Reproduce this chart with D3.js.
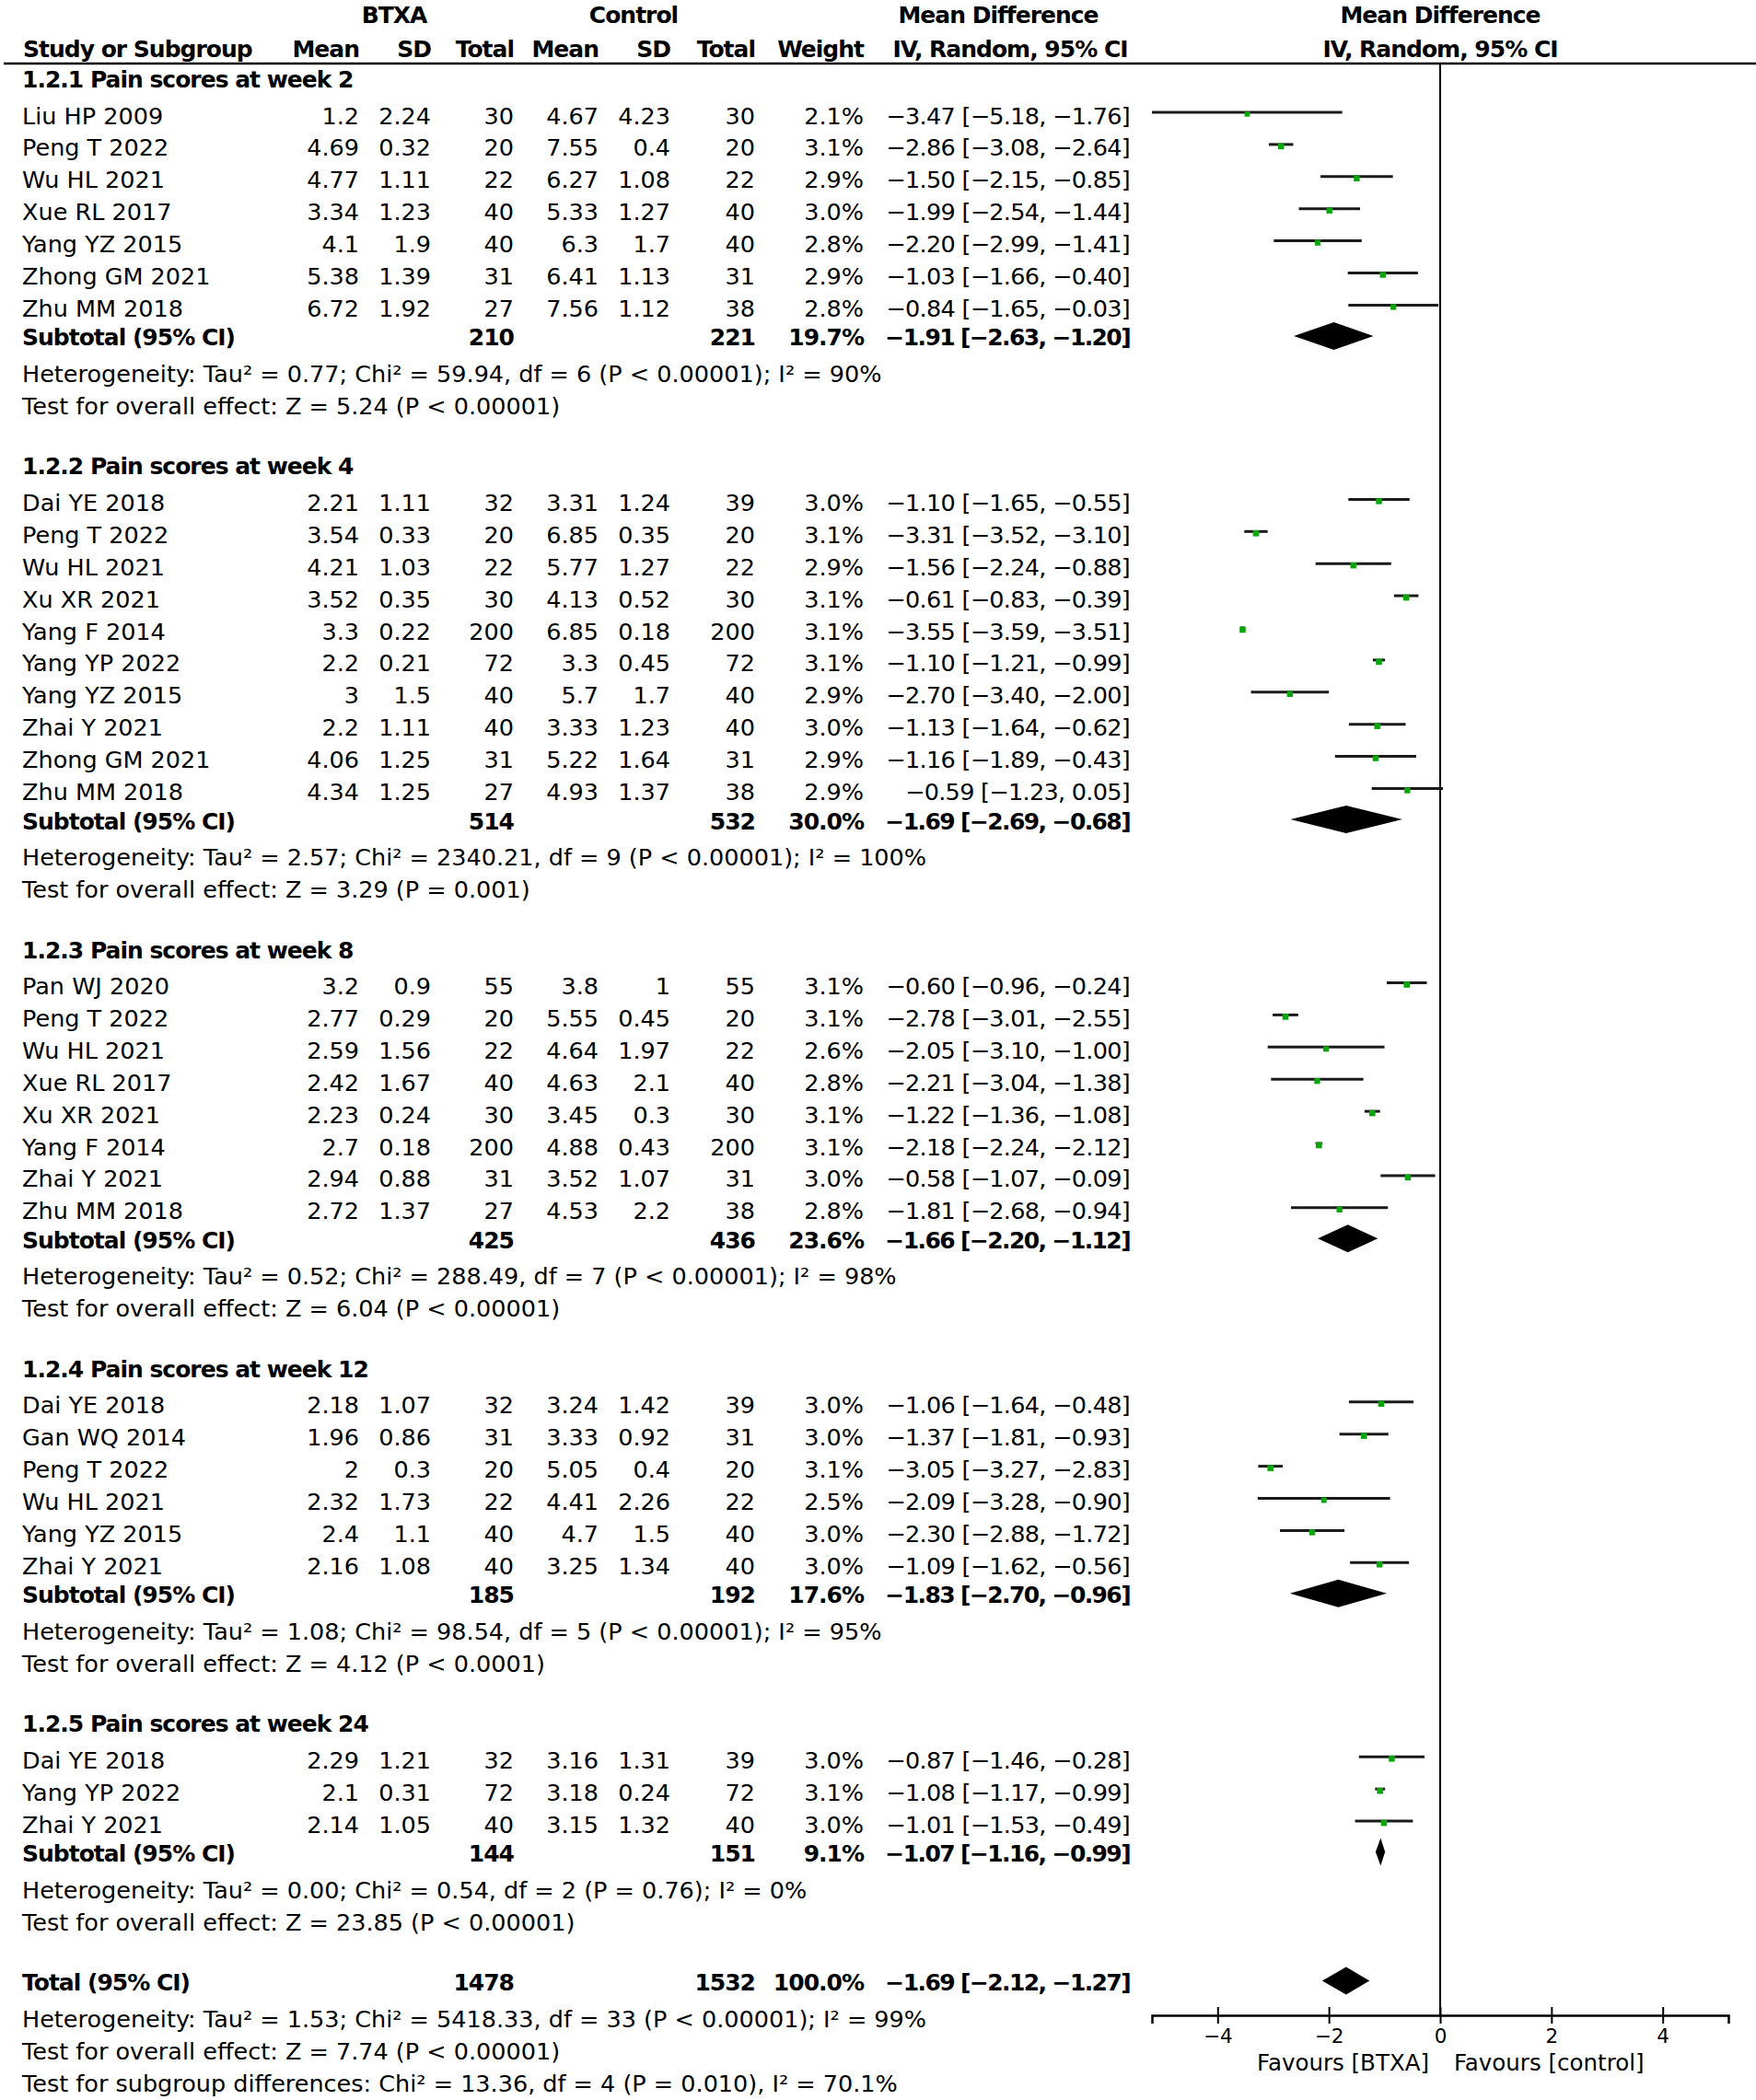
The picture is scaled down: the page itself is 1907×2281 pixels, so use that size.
<!DOCTYPE html>
<html><head><meta charset="utf-8">
<script src="https://cdn.jsdelivr.net/npm/d3@7"></script>
<style>
body{margin:0;background:#fff}
svg{display:block}
text{font-family:"DejaVu Sans",sans-serif;font-size:25.5px;fill:#000}
.b{font-weight:bold;letter-spacing:-1px;font-size:25px}
.md{letter-spacing:-0.7px}
.b.md{letter-spacing:-1.6px}
</style>
</head><body>
<svg id="chart" width="1907" height="2281"></svg>
<script>
// ---------------- DATA ----------------
const subgroupLabels = ["1.2.1 Pain scores at week 2","1.2.2 Pain scores at week 4","1.2.3 Pain scores at week 8","1.2.4 Pain scores at week 12","1.2.5 Pain scores at week 24"];
const studyGroup = [0,0,0,0,0,0,0, 1,1,1,1,1,1,1,1,1,1, 2,2,2,2,2,2,2,2, 3,3,3,3,3,3, 4,4,4];
const studyNames = ["Liu HP 2009","Peng T 2022","Wu HL 2021","Xue RL 2017","Yang YZ 2015","Zhong GM 2021","Zhu MM 2018",
  "Dai YE 2018","Peng T 2022","Wu HL 2021","Xu XR 2021","Yang F 2014","Yang YP 2022","Yang YZ 2015","Zhai Y 2021","Zhong GM 2021","Zhu MM 2018",
  "Pan WJ 2020","Peng T 2022","Wu HL 2021","Xue RL 2017","Xu XR 2021","Yang F 2014","Zhai Y 2021","Zhu MM 2018",
  "Dai YE 2018","Gan WQ 2014","Peng T 2022","Wu HL 2021","Yang YZ 2015","Zhai Y 2021",
  "Dai YE 2018","Yang YP 2022","Zhai Y 2021"];
const btxaMean = [1.2,4.69,4.77,3.34,4.1,5.38,6.72, 2.21,3.54,4.21,3.52,3.3,2.2,3,2.2,4.06,4.34, 3.2,2.77,2.59,2.42,2.23,2.7,2.94,2.72, 2.18,1.96,2,2.32,2.4,2.16, 2.29,2.1,2.14];
const btxaSD = [2.24,0.32,1.11,1.23,1.9,1.39,1.92, 1.11,0.33,1.03,0.35,0.22,0.21,1.5,1.11,1.25,1.25, 0.9,0.29,1.56,1.67,0.24,0.18,0.88,1.37, 1.07,0.86,0.3,1.73,1.1,1.08, 1.21,0.31,1.05];
const btxaN = [30,20,22,40,40,31,27, 32,20,22,30,200,72,40,40,31,27, 55,20,22,40,30,200,31,27, 32,31,20,22,40,40, 32,72,40];
const ctrlMean = [4.67,7.55,6.27,5.33,6.3,6.41,7.56, 3.31,6.85,5.77,4.13,6.85,3.3,5.7,3.33,5.22,4.93, 3.8,5.55,4.64,4.63,3.45,4.88,3.52,4.53, 3.24,3.33,5.05,4.41,4.7,3.25, 3.16,3.18,3.15];
const ctrlSD = [4.23,0.4,1.08,1.27,1.7,1.13,1.12, 1.24,0.35,1.27,0.52,0.18,0.45,1.7,1.23,1.64,1.37, 1,0.45,1.97,2.1,0.3,0.43,1.07,2.2, 1.42,0.92,0.4,2.26,1.5,1.34, 1.31,0.24,1.32];
const ctrlN = [30,20,22,40,40,31,38, 39,20,22,30,200,72,40,40,31,38, 55,20,22,40,30,200,31,38, 39,31,20,22,40,40, 39,72,40];
const weights = [2.1,3.1,2.9,3.0,2.8,2.9,2.8, 3.0,3.1,2.9,3.1,3.1,3.1,2.9,3.0,2.9,2.9, 3.1,3.1,2.6,2.8,3.1,3.1,3.0,2.8, 3.0,3.0,3.1,2.5,3.0,3.0, 3.0,3.1,3.0];
const meanDiff = [-3.47,-2.86,-1.50,-1.99,-2.20,-1.03,-0.84, -1.10,-3.31,-1.56,-0.61,-3.55,-1.10,-2.70,-1.13,-1.16,-0.59, -0.60,-2.78,-2.05,-2.21,-1.22,-2.18,-0.58,-1.81, -1.06,-1.37,-3.05,-2.09,-2.30,-1.09, -0.87,-1.08,-1.01];
const ciLow = [-5.18,-3.08,-2.15,-2.54,-2.99,-1.66,-1.65, -1.65,-3.52,-2.24,-0.83,-3.59,-1.21,-3.40,-1.64,-1.89,-1.23, -0.96,-3.01,-3.10,-3.04,-1.36,-2.24,-1.07,-2.68, -1.64,-1.81,-3.27,-3.28,-2.88,-1.62, -1.46,-1.17,-1.53];
const ciHigh = [-1.76,-2.64,-0.85,-1.44,-1.41,-0.40,-0.03, -0.55,-3.10,-0.88,-0.39,-3.51,-0.99,-2.00,-0.62,-0.43,0.05, -0.24,-2.55,-1.00,-1.38,-1.08,-2.12,-0.09,-0.94, -0.48,-0.93,-2.83,-0.90,-1.72,-0.56, -0.28,-0.99,-0.49];

const subBtxaN = [210,514,425,185,144];
const subCtrlN = [221,532,436,192,151];
const subWeight = [19.7,30.0,23.6,17.6,9.1];
const subMD = [-1.91,-1.69,-1.66,-1.83,-1.07];
const subLow = [-2.63,-2.69,-2.20,-2.70,-1.16];
const subHigh = [-1.20,-0.68,-1.12,-0.96,-0.99];
const subHeterogeneity = [
  "Heterogeneity: Tau² = 0.77; Chi² = 59.94, df = 6 (P < 0.00001); I² = 90%",
  "Heterogeneity: Tau² = 2.57; Chi² = 2340.21, df = 9 (P < 0.00001); I² = 100%",
  "Heterogeneity: Tau² = 0.52; Chi² = 288.49, df = 7 (P < 0.00001); I² = 98%",
  "Heterogeneity: Tau² = 1.08; Chi² = 98.54, df = 5 (P < 0.00001); I² = 95%",
  "Heterogeneity: Tau² = 0.00; Chi² = 0.54, df = 2 (P = 0.76); I² = 0%"];
const subEffect = [
  "Test for overall effect: Z = 5.24 (P < 0.00001)",
  "Test for overall effect: Z = 3.29 (P = 0.001)",
  "Test for overall effect: Z = 6.04 (P < 0.00001)",
  "Test for overall effect: Z = 4.12 (P < 0.0001)",
  "Test for overall effect: Z = 23.85 (P < 0.00001)"];

const totalBtxaN = 1478, totalCtrlN = 1532, totalWeight = 100.0;
const totalMD = -1.69, totalLow = -2.12, totalHigh = -1.27;
const totalTexts = [
  "Heterogeneity: Tau² = 1.53; Chi² = 5418.33, df = 33 (P < 0.00001); I² = 99%",
  "Test for overall effect: Z = 7.74 (P < 0.00001)",
  "Test for subgroup differences: Chi² = 13.36, df = 4 (P = 0.010), I² = 70.1%"];

const axisTicks = [-4,-2,0,2,4];
const axisDomain = [-5.18, 5.18];
const favourLabels = ["Favours [BTXA]","Favours [control]"];

// ---------------- DRAW ----------------
const svg = d3.select("#chart");
svg.append("rect").attr("width",1907).attr("height",2281).attr("fill","#fff");

const x = d3.scaleLinear().domain(axisDomain).range([1251, 1877]);
const size = d3.scaleSqrt().domain([0, 3.1]).range([0, 6.6]);
const fmt = v => (v < 0 ? "\u2212" : "") + Math.abs(v).toFixed(2);
const mdText = (m,l,h) => `${fmt(m)} [${fmt(l)}, ${fmt(h)}]`;

const col = {name:24, bMean:390, bSD:468, bN:558, cMean:650, cSD:728, cN:820, w:938, md:1227};

function txt(xp, yp, s, anchor, cls){
  return svg.append("text").attr("x",xp).attr("y",yp).attr("text-anchor",anchor||"start")
    .attr("class", cls === true ? "b" : (cls || null)).text(s);
}

// Headers
txt(428, 25, "BTXA", "middle", true);
txt(688, 25, "Control", "middle", true);
txt(1084, 25, "Mean Difference", "middle", true);
txt(1564, 25, "Mean Difference", "middle", true);
txt(25, 62, "Study or Subgroup", "start", true);
txt(col.bMean, 62, "Mean", "end", true);
txt(col.bSD, 62, "SD", "end", true);
txt(col.bN, 62, "Total", "end", true);
txt(col.cMean, 62, "Mean", "end", true);
txt(col.cSD, 62, "SD", "end", true);
txt(col.cN, 62, "Total", "end", true);
txt(col.w, 62, "Weight", "end", true);
txt(1097, 62, "IV, Random, 95% CI", "middle", true);
txt(1564, 62, "IV, Random, 95% CI", "middle", true);

svg.append("line").attr("x1",4).attr("x2",1907).attr("y1",69).attr("y2",69)
  .attr("stroke","#000").attr("stroke-width",2.6);

// zero line
const axisY = 2189;
svg.append("line").attr("x1",x(0)).attr("x2",x(0)).attr("y1",69).attr("y2",axisY)
  .attr("stroke","#000").attr("stroke-width",2);

function diamond(yc, m, l, h){
  const hh = 15;
  svg.append("path")
    .attr("d", `M${x(l)},${yc} L${x(m)},${yc-hh} L${x(h)},${yc} L${x(m)},${yc+hh} Z`)
    .attr("fill","#000");
}

let y = 95;
subgroupLabels.forEach((lab, g) => {
  txt(col.name, y, lab, "start", true);
  y += 39.5;
  const idx = studyGroup.map((v,i)=>v===g?i:-1).filter(i=>i>=0);
  idx.forEach((i, k) => {
    if (k > 0) y += 34.9;
    txt(col.name, y, studyNames[i]);
    txt(col.bMean, y, String(btxaMean[i]), "end");
    txt(col.bSD, y, String(btxaSD[i]), "end");
    txt(col.bN, y, String(btxaN[i]), "end");
    txt(col.cMean, y, String(ctrlMean[i]), "end");
    txt(col.cSD, y, String(ctrlSD[i]), "end");
    txt(col.cN, y, String(ctrlN[i]), "end");
    txt(col.w, y, weights[i].toFixed(1) + "%", "end");
    txt(col.md, y, mdText(meanDiff[i], ciLow[i], ciHigh[i]), "end", "md");
    const ly = y - 12.5;
    svg.append("line").attr("x1", x(ciLow[i])).attr("x2", x(ciHigh[i]))
      .attr("y1", ly).attr("y2", ly).attr("stroke","#1a1a1a").attr("stroke-width",3);
    const s = size(weights[i]);
    svg.append("rect").attr("x", x(meanDiff[i]) - s/2).attr("y", ly + 2 - s/2)
      .attr("width", s).attr("height", s).attr("fill","#0aa50a");
  });
  y += 31.5;
  txt(col.name, y, "Subtotal (95% CI)", "start", true);
  txt(col.bN, y, String(subBtxaN[g]), "end", true);
  txt(col.cN, y, String(subCtrlN[g]), "end", true);
  txt(col.w, y, subWeight[g].toFixed(1) + "%", "end", true);
  txt(col.md, y, mdText(subMD[g], subLow[g], subHigh[g]), "end", "b md");
  diamond(y - 10.5, subMD[g], subLow[g], subHigh[g]);
  y += 39.5;
  txt(col.name, y, subHeterogeneity[g]);
  y += 35;
  txt(col.name, y, subEffect[g]);
  y += 65.5;
});

// Total
txt(col.name, y, "Total (95% CI)", "start", true);
txt(col.bN, y, String(totalBtxaN), "end", true);
txt(col.cN, y, String(totalCtrlN), "end", true);
txt(col.w, y, totalWeight.toFixed(1) + "%", "end", true);
txt(col.md, y, mdText(totalMD, totalLow, totalHigh), "end", "b md");
diamond(y - 10.5, totalMD, totalLow, totalHigh);
y += 39.5;
totalTexts.forEach((t, k) => { txt(col.name, y, t); y += 35; });

// Axis
const axis = d3.axisBottom(x).tickValues(axisTicks).tickSizeOuter(0).tickSize(9)
  .tickFormat(d3.format("d"));
const ag = svg.append("g").attr("transform", `translate(0,${axisY})`).call(axis);
ag.select(".domain").attr("stroke","#000").attr("stroke-width",2.5);
ag.selectAll(".tick line").attr("y1",-9).attr("y2",9).attr("stroke","#000").attr("stroke-width",2);
ag.selectAll(".tick text").attr("y",30).attr("dy",0)
  .style("font-family","DejaVu Sans, sans-serif").style("font-size","21.5px").attr("fill","#000");
ag.attr("font-size",null).attr("font-family",null);

txt(x(0) - 12, 2249, favourLabels[0], "end").style("font-size","24.5px");
txt(x(0) + 15, 2249, favourLabels[1], "start").style("font-size","24.5px");
</script>
</body></html>
